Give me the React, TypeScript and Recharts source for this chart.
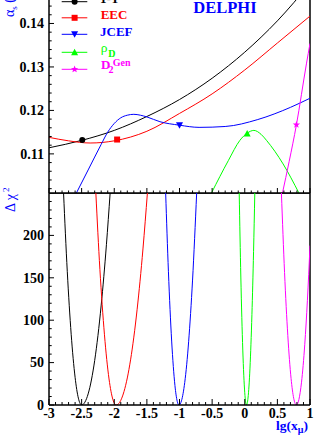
import React from 'react'
import { ComposedChart, Line, Scatter, XAxis, YAxis, ReferenceLine } from 'recharts'

const FONT = '"Liberation Serif", "Times New Roman", serif'
const BLUE = '#0000ff'
const RED = '#ff0000'
const GREEN = '#00ff00'
const MAGENTA = '#ff00ff'
const BLACK = '#000000'

// major tick labels
const xMajor = [-3, -2.5, -2, -1.5, -1, -0.5, 0, 0.5, 1]
const alphaMajor = [0.11, 0.12, 0.13, 0.14, 0.15]
const chiMajor = [0, 50, 100, 150, 200, 250]

// alpha_s(M_Z) versus lg(x_mu), top panel
const alpha1mT = [
  { x: -3, y: 0.1114 },
  { x: -2.5, y: 0.1131 },
  { x: -2, y: 0.1154 },
  { x: -1.5, y: 0.1186 },
  { x: -1, y: 0.1225 },
  { x: -0.5, y: 0.1274 },
  { x: 0, y: 0.1334 },
  { x: 0.5, y: 0.1406 },
  { x: 1, y: 0.1492 },
]
const alphaEEC = [
  { x: -3, y: 0.1138 },
  { x: -2.7, y: 0.113 },
  { x: -2.37, y: 0.1125 },
  { x: -2, y: 0.113 },
  { x: -1.5, y: 0.1152 },
  { x: -1, y: 0.1193 },
  { x: -0.5, y: 0.1238 },
  { x: 0, y: 0.1293 },
  { x: 0.5, y: 0.1355 },
  { x: 1, y: 0.1417 },
]
const alphaJCEF = [
  { x: -2.58, y: 0.101 },
  { x: -2.4, y: 0.1063 },
  { x: -2.2, y: 0.1122 },
  { x: -2.1, y: 0.115 },
  { x: -2, y: 0.117 },
  { x: -1.9, y: 0.1183 },
  { x: -1.8, y: 0.1189 },
  { x: -1.7, y: 0.1191 },
  { x: -1.6, y: 0.1189 },
  { x: -1.5, y: 0.1185 },
  { x: -1.3, y: 0.1174 },
  { x: -1, y: 0.1166 },
  { x: -0.7, y: 0.1161 },
  { x: -0.3, y: 0.1163 },
  { x: 0.2, y: 0.1179 },
  { x: 0.7, y: 0.1207 },
  { x: 1, y: 0.1228 },
]
const alphaRhoD = [
  { x: -0.51, y: 0.101 },
  { x: -0.25, y: 0.1085 },
  { x: -0.075, y: 0.1131 },
  { x: 0.04, y: 0.1148 },
  { x: 0.14, y: 0.1154 },
  { x: 0.25, y: 0.1145 },
  { x: 0.334, y: 0.1131 },
  { x: 0.587, y: 0.1077 },
  { x: 0.83, y: 0.101 },
]
const alphaD2Gen = [
  { x: 0.578, y: 0.101 },
  { x: 0.68, y: 0.1082 },
  { x: 0.792, y: 0.1167 },
  { x: 0.945, y: 0.1307 },
  { x: 1, y: 0.1354 },
]

// fitted points (one marker per observable)
const best1mT = [{ x: -2.49, y: 0.1132 }]
const bestEEC = [{ x: -1.956, y: 0.1133 }]
const bestJCEF = [{ x: -1.0, y: 0.1166 }]
const bestRhoD = [{ x: 0.037, y: 0.1147 }]
const bestD2Gen = [{ x: 0.792, y: 0.1167 }]

// delta chi^2 versus lg(x_mu), bottom panel
const chi1mT = [
  { x: -2.777, y: 250 },
  { x: -2.72, y: 157.7 },
  { x: -2.66, y: 83.4 },
  { x: -2.6, y: 32.6 },
  { x: -2.55, y: 8.1 },
  { x: -2.5, y: 0 },
  { x: -2.45, y: 3.3 },
  { x: -2.4, y: 13.1 },
  { x: -2.3, y: 52.4 },
  { x: -2.2, y: 117.8 },
  { x: -2.12, y: 189 },
  { x: -2.063, y: 250 },
]
const chiEEC = [
  { x: -2.282, y: 250 },
  { x: -2.22, y: 160 },
  { x: -2.15, y: 82.8 },
  { x: -2.08, y: 30.7 },
  { x: -2.02, y: 6.2 },
  { x: -1.971, y: 0 },
  { x: -1.92, y: 2.8 },
  { x: -1.85, y: 16 },
  { x: -1.75, y: 53.2 },
  { x: -1.65, y: 112.3 },
  { x: -1.56, y: 184 },
  { x: -1.492, y: 250 },
]
const chiJCEF = [
  { x: -1.212, y: 250 },
  { x: -1.17, y: 157.7 },
  { x: -1.12, y: 75.4 },
  { x: -1.07, y: 23.1 },
  { x: -1.035, y: 4.4 },
  { x: -1.008, y: 0 },
  { x: -0.97, y: 4.9 },
  { x: -0.92, y: 26.4 },
  { x: -0.86, y: 74.6 },
  { x: -0.8, y: 147.3 },
  { x: -0.737, y: 250 },
]
const chiRhoD = [
  { x: -0.085, y: 250 },
  { x: -0.06, y: 150.9 },
  { x: -0.03, y: 64.8 },
  { x: 0, y: 14.5 },
  { x: 0.027, y: 0 },
  { x: 0.05, y: 8.2 },
  { x: 0.08, y: 43.5 },
  { x: 0.11, y: 106.8 },
  { x: 0.135, y: 180.8 },
  { x: 0.154, y: 250 },
]
const chiD2Gen = [
  { x: 0.562, y: 250 },
  { x: 0.61, y: 156.2 },
  { x: 0.66, y: 81.8 },
  { x: 0.71, y: 31.3 },
  { x: 0.75, y: 8 },
  { x: 0.791, y: 0 },
  { x: 0.83, y: 6.5 },
  { x: 0.87, y: 26.9 },
  { x: 0.92, y: 71.6 },
  { x: 0.96, y: 122.9 },
  { x: 1, y: 188 },
]

function buildTicks(from: number, to: number, step: number) {
  const out: number[] = []
  const n = Math.round((to - from) / step)
  for (let i = 0; i <= n; i++) out.push(Math.round((from + i * step) * 1e6) / 1e6)
  return out
}

const xTicks = buildTicks(-3, 1, 0.1)
const alphaTicks = buildTicks(0.102, 0.15, 0.002)
const chiTicks = buildTicks(0, 250, 10)

const isIn = (list: number[], v: number) => list.some((m) => Math.abs(m - v) < 1e-7)

function XTick(props: any) {
  const { x, y, payload, len, labels } = props
  const v = payload.value
  const major = isIn(xMajor, v)
  return (
    <g>
      <line x1={x} x2={x} y1={y} y2={y - (major ? len : len / 2)} stroke={BLACK} strokeWidth={1} />
      {labels && major && (
        <text x={x} y={y + 12.5} textAnchor="middle" fontFamily={FONT} fontWeight="bold" fontSize={14} fill={BLACK}>
          {String(v)}
        </text>
      )}
    </g>
  )
}

function YTick(props: any) {
  const { x, y, payload, majors, fmt } = props
  const v = payload.value
  const major = isIn(majors, v)
  const showLabel = major && fmt(v) !== ''
  return (
    <g>
      <line x1={x} x2={x + (major ? 5 : 2.7)} y1={y} y2={y} stroke={BLACK} strokeWidth={1} />
      {showLabel && (
        <text x={x - 5} y={y + 4.8} textAnchor="end" fontFamily={FONT} fontWeight="bold" fontSize={14} fill={BLACK}>
          {fmt(v)}
        </text>
      )}
    </g>
  )
}

function Marker({ kind, cx, cy, color }: { kind: string; cx: number; cy: number; color: string }) {
  if (kind === 'circle') return <circle cx={cx} cy={cy} r={3} fill={color} />
  if (kind === 'square') return <rect x={cx - 3} y={cy - 3} width={6} height={6} fill={color} />
  if (kind === 'down')
    return <polygon points={`${cx - 3.5},${cy - 3} ${cx + 3.5},${cy - 3} ${cx},${cy + 3.5}`} fill={color} />
  if (kind === 'up')
    return <polygon points={`${cx - 3.5},${cy + 3} ${cx + 3.5},${cy + 3} ${cx},${cy - 3.5}`} fill={color} />
  const pts: string[] = []
  for (let i = 0; i < 10; i++) {
    const r = i % 2 === 0 ? 3.8 : 1.6
    const a = -Math.PI / 2 + (i * Math.PI) / 5
    pts.push(`${cx + r * Math.cos(a)},${cy + r * Math.sin(a)}`)
  }
  return <polygon points={pts.join(' ')} fill={color} />
}

const markerShape = (kind: string, color: string) => (p: any) => (
  <Marker kind={kind} cx={p.cx} cy={p.cy} color={color} />
)

const series = [
  { key: '1mT', color: BLACK, marker: 'circle', alpha: alpha1mT, best: best1mT, chi: chi1mT },
  { key: 'EEC', color: RED, marker: 'square', alpha: alphaEEC, best: bestEEC, chi: chiEEC },
  { key: 'JCEF', color: BLUE, marker: 'down', alpha: alphaJCEF, best: bestJCEF, chi: chiJCEF },
  { key: 'rhoD', color: GREEN, marker: 'up', alpha: alphaRhoD, best: bestRhoD, chi: chiRhoD },
  { key: 'D2Gen', color: MAGENTA, marker: 'star', alpha: alphaD2Gen, best: bestD2Gen, chi: chiD2Gen },
]

const legendRows = [1.7, 17.8, 34.3, 52.3, 69.3]

function Overlay() {
  const bold = { fontFamily: FONT, fontWeight: 'bold' as const }
  return (
    <svg width={327} height={436} style={{ position: 'absolute', left: 0, top: 0, pointerEvents: 'none' }}>
      {series.map((s, i) => (
        <g key={s.key}>
          <line x1={61.7} x2={87.3} y1={legendRows[i]} y2={legendRows[i]} stroke={s.color} strokeWidth={1} />
          <Marker kind={s.marker} cx={74.6} cy={legendRows[i]} color={s.color} />
        </g>
      ))}
      <text x={100} y={2.7} fontSize={13} fill={BLACK} {...bold}>1-T</text>
      <text x={100.7} y={19} fontSize={13} fill={RED} {...bold}>EEC</text>
      <text x={100} y={35.7} fontSize={13} fill={BLUE} {...bold}>JCEF</text>
      <text x={100.7} y={52} fontSize={13.5} fill={GREEN} fontFamily={FONT}>ρ</text>
      <text x={108.3} y={56.7} fontSize={10} fill={GREEN} {...bold}>D</text>
      <text x={101} y={69} fontSize={13} fill={MAGENTA} {...bold}>D</text>
      <text x={108.5} y={73.3} fontSize={10} fill={MAGENTA} {...bold}>2</text>
      <text x={112.7} y={65.5} fontSize={10} fill={MAGENTA} {...bold}>Gen</text>

      <text x={193.3} y={12.7} fontSize={16.5} fill={BLUE} {...bold}>DELPHI</text>

      <text x={14} y={17} transform="rotate(-90 14 17)" fontSize={14} fill={BLUE} fontFamily={FONT}>
        α<tspan fontSize={9} dy={3}>s</tspan>
        <tspan dy={-3}> (M</tspan>
        <tspan fontSize={9} dy={3}>Z</tspan>
        <tspan dy={-3}>)</tspan>
      </text>

      <text x={15} y={212} transform="rotate(-90 15 212)" fontSize={14} fill={BLUE} fontFamily={FONT}>
        Δ χ<tspan fontSize={9} dy={-6} dx={2}>2</tspan>
      </text>

      <text x={276} y={430} fontSize={13.5} fill={BLUE} {...bold}>
        lg(x<tspan fontSize={10} dy={3}>μ</tspan>
        <tspan dy={-3}>)</tspan>
      </text>
    </svg>
  )
}

function AlphaPanel() {
  return (
    <ComposedChart width={327} height={214} margin={{ top: 0, right: 17, bottom: 0, left: 0 }}>
      <XAxis
        type="number"
        dataKey="x"
        domain={[-3, 1]}
        ticks={xTicks}
        interval={0}
        height={1}
        tickSize={0}
        tickMargin={0}
        tickLine={false}
        axisLine={{ stroke: BLACK, strokeWidth: 1.5 }}
        tick={(p: any) => <XTick {...p} len={5} labels={false} />}
        allowDataOverflow
      />
      <YAxis
        type="number"
        dataKey="y"
        domain={[0.101, 0.15]}
        ticks={alphaTicks}
        interval={0}
        width={49}
        tickSize={0}
        tickMargin={0}
        tickLine={false}
        axisLine={{ stroke: BLACK, strokeWidth: 1.5 }}
        tick={(p: any) => (
          <YTick {...p} majors={alphaMajor} fmt={(v: number) => (v < 0.145 ? v.toFixed(2) : '')} />
        )}
        allowDataOverflow
      />
      <ReferenceLine x={1} stroke={BLACK} strokeWidth={1.5} />
      {series.map((s) => (
        <Line
          key={s.key}
          data={s.alpha}
          dataKey="y"
          type="monotone"
          stroke={s.color}
          strokeWidth={1}
          dot={false}
          activeDot={false}
          isAnimationActive={false}
        />
      ))}
      {series.map((s) => (
        <Scatter
          key={s.key + '-best'}
          data={s.best}
          dataKey="y"
          shape={markerShape(s.marker, s.color)}
          isAnimationActive={false}
        />
      ))}
    </ComposedChart>
  )
}

function ChiPanel() {
  return (
    <ComposedChart width={327} height={243} margin={{ top: 0, right: 17, bottom: 0, left: 0 }}>
      <XAxis
        type="number"
        dataKey="x"
        domain={[-3, 1]}
        ticks={xTicks}
        interval={0}
        height={31}
        tickSize={0}
        tickMargin={0}
        tickLine={false}
        axisLine={{ stroke: BLACK, strokeWidth: 1.5 }}
        tick={(p: any) => <XTick {...p} len={6} labels />}
        allowDataOverflow
      />
      <YAxis
        type="number"
        dataKey="y"
        domain={[0, 250]}
        ticks={chiTicks}
        interval={0}
        width={49}
        tickSize={0}
        tickMargin={0}
        tickLine={false}
        axisLine={{ stroke: BLACK, strokeWidth: 1.5 }}
        tick={(p: any) => <YTick {...p} majors={chiMajor} fmt={(v: number) => (v < 240 ? String(v) : '')} />}
        allowDataOverflow
      />
      <ReferenceLine x={1} stroke={BLACK} strokeWidth={1.5} />
      <ReferenceLine y={250} stroke={BLACK} strokeWidth={1.5} />
      {series.map((s) => (
        <Line
          key={s.key}
          data={s.chi}
          dataKey="y"
          type="monotone"
          stroke={s.color}
          strokeWidth={1}
          dot={false}
          activeDot={false}
          isAnimationActive={false}
        />
      ))}
    </ComposedChart>
  )
}

export default function App() {
  return (
    <div style={{ position: 'absolute', left: 0, top: 0, width: 327, height: 436, overflow: 'hidden', background: '#fff' }}>
      <div style={{ position: 'absolute', left: 0, top: -20 }}>
        <AlphaPanel />
      </div>
      <div style={{ position: 'absolute', left: 0, top: 193 }}>
        <ChiPanel />
      </div>
      <Overlay />
    </div>
  )
}
